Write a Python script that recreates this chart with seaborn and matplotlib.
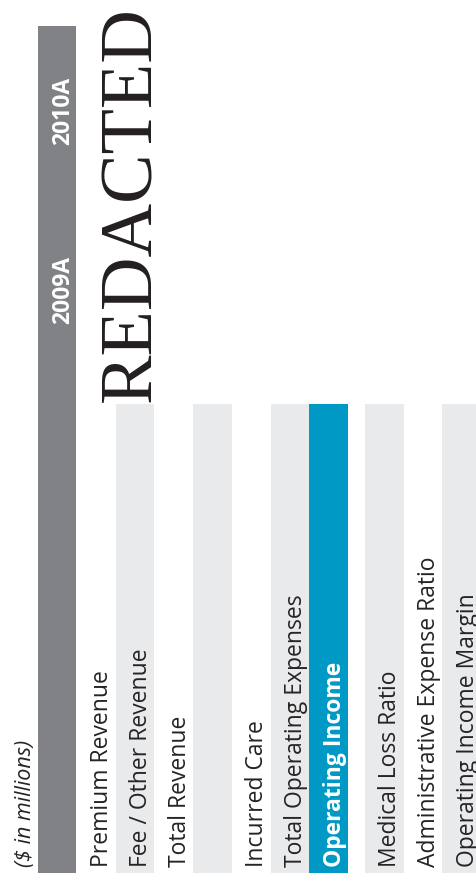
import matplotlib
matplotlib.use("Agg")
import matplotlib.pyplot as plt
import seaborn as sns
import pandas as pd

# ---- content ----
row_labels = ["Premium Revenue", "Fee / Other Revenue", "Total Revenue", "",
              "Incurred Care", "Total Operating Expenses", "Operating Income",
              "Medical Loss Ratio", "Administrative Expense Ratio",
              "Operating Income Margin"]
row_shading = ["none", "light", "none", "light", "none", "light", "highlight",
               "light", "none", "light"]
column_years = ["2009A", "2010A"]
unit_note = "($ in millions)"
redaction = "REDACTED"

sns.set_theme(style="white")
plt.rcParams["font.family"] = ["Open Sans", "DejaVu Sans"]

W, H = 476, 888
fig = plt.figure(figsize=(W / 100, H / 100), dpi=100)
ax = fig.add_axes([0, 0, 1, 1])

BASE = 873  # pixel row of the table's bottom edge


def py(p):
    return BASE - p


row_pitch = 38.7
first_row = 77
section_gap = 17
lefts = [first_row + i * row_pitch + (section_gap if i >= 7 else 0)
         for i in range(len(row_labels))]

bands = [dict(x=57.0, h=BASE - 26, kind="header")]
for l, s in zip(lefts, row_shading):
    if s != "none":
        bands.append(dict(x=l + row_pitch / 2, h=BASE - 404, kind=s))
df = pd.DataFrame(bands)
palette = {"header": "#808285", "light": "#E9EAEC", "highlight": "#0098C5"}
sns.barplot(data=df, x="x", y="h", hue="kind", palette=palette,
            native_scale=True, width=1.0, dodge=False, legend=False,
            errorbar=None, orient="x", saturation=1, linewidth=0, ax=ax)

ax.set_xlim(0, W)
ax.set_ylim(py(H), py(0))
ax.axis("off")

txt = "#262324"
FS = 16.5
for l, lab, s in zip(lefts, row_labels, row_shading):
    if not lab:
        continue
    hl = s == "highlight"
    ax.text(l + 31.5, py(867), lab, rotation=90, rotation_mode="anchor",
            ha="left", va="baseline", fontsize=FS,
            color="white" if hl else txt,
            fontweight="bold" if hl else "normal")

ax.text(31.5, py(867), unit_note, rotation=90, rotation_mode="anchor",
        ha="left", va="baseline", fontsize=15.5, style="italic", color=txt)

for yr, cy in zip(column_years, [290, 111]):
    ax.text(69, py(cy), yr, rotation=90, rotation_mode="anchor",
            ha="center", va="baseline", fontsize=FS, fontweight="bold",
            color="white")

ax.text(150, py(402), redaction, rotation=90, rotation_mode="anchor",
        ha="left", va="baseline", fontsize=53.5, color="#231F20",
        family=["Liberation Serif", "DejaVu Serif"])

fig.savefig("out.png", dpi=100)
